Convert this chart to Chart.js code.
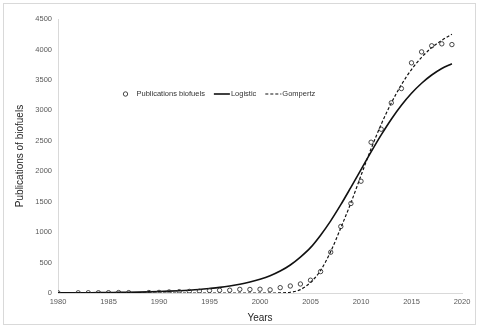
<!DOCTYPE html>
<html>
<head>
<meta charset="utf-8">
<script src="https://cdn.jsdelivr.net/npm/chart.js@4.4.1/dist/chart.umd.min.js"></script>
<style>
  html, body { margin: 0; padding: 0; background: #ffffff; }
  #wrap { position: relative; width: 480px; height: 329px; }
  #frame { position: absolute; left: 3px; top: 3px; width: 473px; height: 322px; box-sizing: border-box; border: 1px solid #d9d9d9; background: #fff; }
  #c { position: absolute; left: 0; top: 0; }
</style>
</head>
<body>
<div id="wrap">
  <div id="frame"></div>
  <canvas id="c" width="480" height="329"></canvas>
</div>
<script>
// ---- Data ----
const obsYears = [1980, 1982, 1983, 1984, 1985, 1986, 1987, 1989, 1990, 1991, 1992, 1993, 1994, 1995, 1996, 1997, 1998, 1999, 2000, 2001, 2002, 2003, 2004, 2005, 2006, 2007, 2008, 2009, 2010, 2011, 2012, 2013, 2014, 2015, 2016, 2017, 2018, 2019];
const obsValues = [2, 3, 4, 4, 5, 7, 6, 8, 10, 17, 22, 26, 30, 40, 45, 46, 60, 58, 62, 52, 88, 115, 148, 210, 352, 670, 1092, 1470, 1836, 2476, 2690, 3123, 3358, 3780, 3960, 4060, 4092, 4080];

const fitYears = [1980, 1981, 1982, 1983, 1984, 1985, 1986, 1987, 1988, 1989, 1990, 1991, 1992, 1993, 1994, 1995, 1996, 1997, 1998, 1999, 2000, 2001, 2002, 2003, 2004, 2005, 2006, 2007, 2008, 2009, 2010, 2011, 2012, 2013, 2014, 2015, 2016, 2017, 2018, 2019];
const logisticValues = [2, 3, 4, 5, 6, 8, 10, 12, 15, 19, 24, 30, 37, 46, 58, 74, 92, 115, 143, 180, 225, 283, 360, 460, 590, 745, 950, 1185, 1450, 1735, 2025, 2317, 2596, 2854, 3083, 3280, 3445, 3580, 3688, 3765];
const gompertzValues = [0, 0, 0, 0, 0, 0, 0, 0, 0, 0, 0, 0, 0, 0, 0, 0, 0, 0, 0, 0, 0, 0, 2, 12, 55, 175, 370, 680, 1070, 1480, 1930, 2370, 2770, 3120, 3420, 3670, 3870, 4030, 4150, 4250];

const seriesNames = ['Publications biofuels', 'Logistic', 'Gompertz'];
const xTicks = [1980, 1985, 1990, 1995, 2000, 2005, 2010, 2015, 2020];
const yTicks = [0, 500, 1000, 1500, 2000, 2500, 3000, 3500, 4000, 4500];
const xTitle = 'Years';
const yTitle = 'Publications of biofuels';

// ---- Build ----
const pts = (xs, ys) => xs.map((x, i) => ({ x: x, y: ys[i] }));
Chart.defaults.font.family = '"Liberation Sans", Arial, Helvetica, sans-serif';

const tickColor = '#595959';
const titleColor = '#262626';

const manualLegend = {
  id: 'manualLegend',
  afterDraw(chart) {
    const ctx = chart.ctx;
    const ds = chart.data.datasets;
    const y = 94;
    ctx.save();
    ctx.font = '7.5px "Liberation Sans", Arial, sans-serif';
    ctx.fillStyle = '#333333';
    ctx.textBaseline = 'middle';
    ctx.textAlign = 'left';
    // item 1: circle marker
    let x = 125.5;
    ctx.beginPath();
    ctx.lineWidth = ds[0].borderWidth;
    ctx.strokeStyle = ds[0].borderColor;
    ctx.arc(x, y, ds[0].pointRadius, 0, Math.PI * 2);
    ctx.stroke();
    x += 11;
    ctx.fillText(ds[0].label, x, y);
    x += ctx.measureText(ds[0].label).width + 9;
    // item 2 and 3: lines
    for (let k = 1; k < 3; k++) {
      ctx.beginPath();
      ctx.lineWidth = ds[k].borderWidth;
      ctx.strokeStyle = ds[k].borderColor;
      ctx.setLineDash(ds[k].borderDash || []);
      ctx.moveTo(x, y);
      ctx.lineTo(x + 16, y);
      ctx.stroke();
      ctx.setLineDash([]);
      x += 17;
      ctx.fillText(ds[k].label, x, y);
      x += ctx.measureText(ds[k].label).width + 9;
    }
    ctx.restore();
  }
};

new Chart(document.getElementById('c'), {
  type: 'line',
  data: {
    datasets: [
      {
        label: seriesNames[0],
        data: pts(obsYears, obsValues),
        showLine: false,
        pointRadius: 2.2,
        pointBorderWidth: 0.9,
        borderWidth: 0.9,
        borderColor: '#333333',
        pointBorderColor: '#333333',
        pointBackgroundColor: 'rgba(255,255,255,0)',
        backgroundColor: 'rgba(255,255,255,0)',
        order: 0
      },
      {
        label: seriesNames[1],
        data: pts(fitYears, logisticValues),
        borderColor: '#111111',
        borderWidth: 1.6,
        pointRadius: 0,
        cubicInterpolationMode: 'monotone',
        fill: false,
        order: 2
      },
      {
        label: seriesNames[2],
        data: pts(fitYears, gompertzValues),
        borderColor: '#111111',
        borderWidth: 1.2,
        borderDash: [3, 2],
        pointRadius: 0,
        cubicInterpolationMode: 'monotone',
        fill: false,
        order: 1
      }
    ]
  },
  options: {
    responsive: false,
    animation: false,
    devicePixelRatio: 1,
    layout: { padding: { left: 0, top: 19, right: 18, bottom: 0 } },
    plugins: { legend: { display: false }, tooltip: { enabled: false } },
    scales: {
      x: {
        type: 'linear',
        min: xTicks[0],
        max: xTicks[xTicks.length - 1],
        afterBuildTicks: (s) => { s.ticks = xTicks.map(v => ({ value: v })); },
        ticks: { color: tickColor, font: { size: 7.5 }, padding: 4, maxRotation: 0, autoSkip: false, callback: (v) => String(v) },
        grid: { display: false, drawTicks: false },
        border: { display: true, color: '#d9d9d9', width: 1 },
        title: { display: true, text: xTitle, color: titleColor, font: { size: 10 }, padding: { top: 0, bottom: 5 } },
        afterFit: (s) => { s.height = 36; }
      },
      y: {
        min: yTicks[0],
        max: yTicks[yTicks.length - 1],
        afterBuildTicks: (s) => { s.ticks = yTicks.map(v => ({ value: v })); },
        ticks: { color: tickColor, font: { size: 7.5 }, padding: 6, callback: (v) => String(v) },
        grid: { display: false, drawTicks: false },
        border: { display: true, color: '#d9d9d9', width: 1 },
        title: { display: true, text: yTitle, color: titleColor, font: { size: 10 }, padding: { top: 14, bottom: 0 } },
        afterFit: (s) => { s.width = 58; }
      }
    }
  },
  plugins: [manualLegend]
});
</script>
</body>
</html>
